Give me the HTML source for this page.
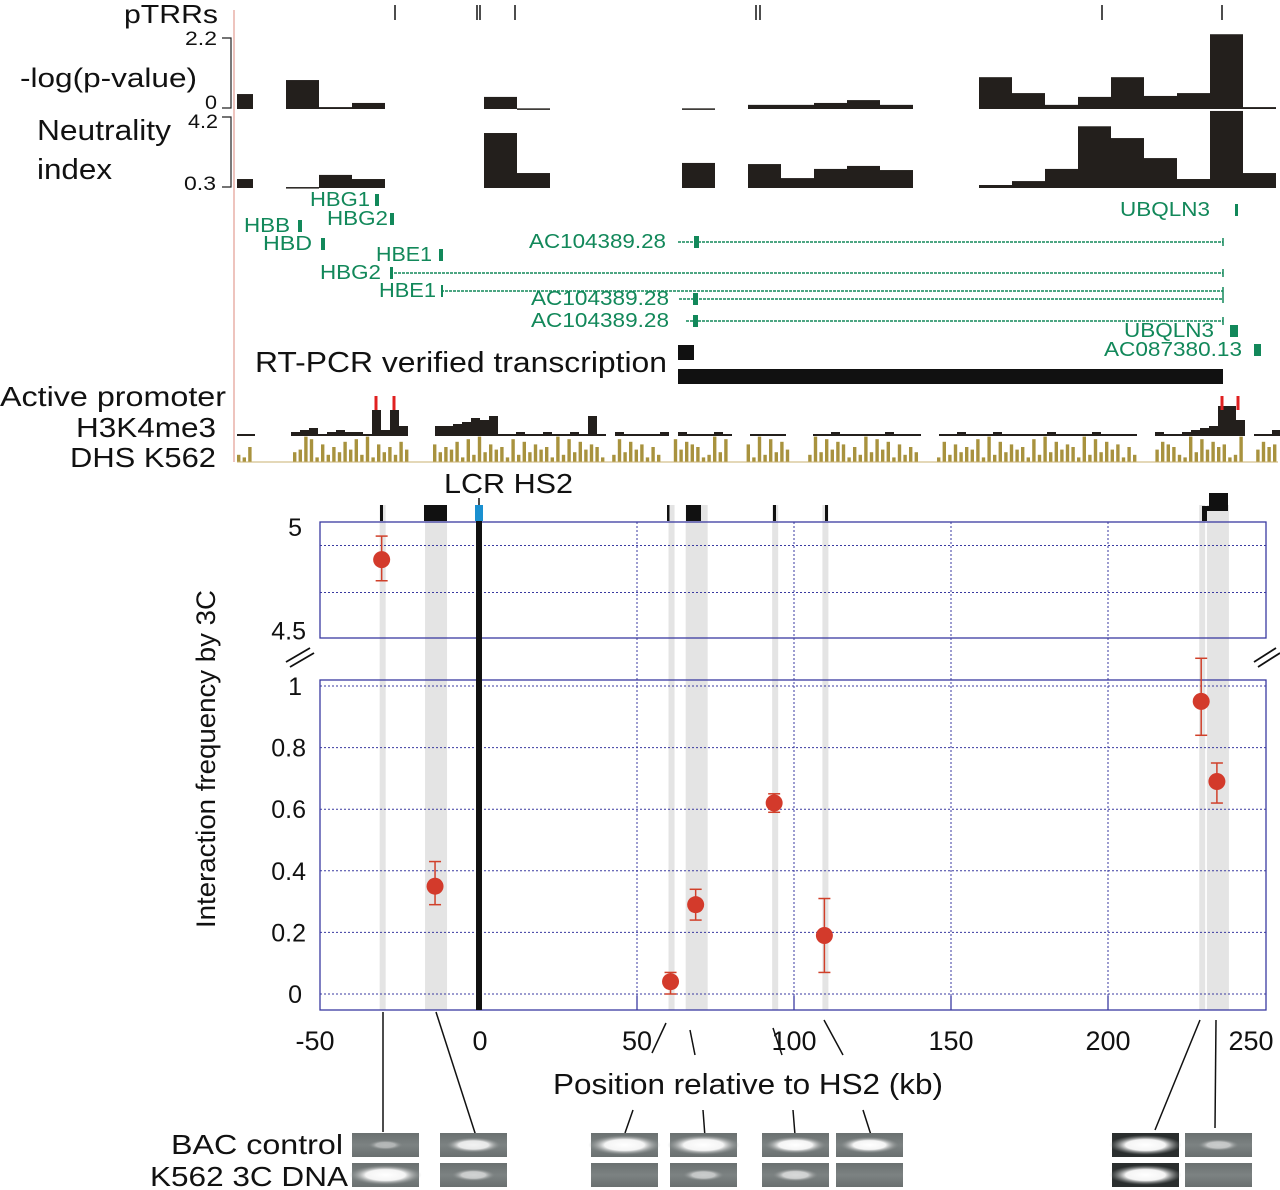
<!DOCTYPE html>
<html><head><meta charset="utf-8"><style>
body{margin:0;background:#fff}
svg{display:block;font-family:"Liberation Sans",sans-serif}
.g{fill:#12885a;font-size:20px}
</style></head><body>
<svg id="fig" width="1280" height="1190" viewBox="0 0 1280 1190" xmlns="http://www.w3.org/2000/svg">
<defs>
<radialGradient id="band" cx="50%" cy="50%" r="50%"><stop offset="0" stop-color="#fff"/><stop offset="0.55" stop-color="#f4f4f4"/><stop offset="1" stop-color="#8a8e8e" stop-opacity="0"/></radialGradient>
<linearGradient id="lane" x1="0" y1="0" x2="0" y2="1"><stop offset="0" stop-color="#6a7070"/><stop offset="0.5" stop-color="#7c8282"/><stop offset="1" stop-color="#6a7070"/></linearGradient>
</defs>
<g id="tracks"></g>
<g id="plot"></g>
<g id="gels"></g>
</svg>
<script>
// ---- track data ----
const logpBins=[0,2,3,4,8,9,14,16,17,18,19,20,23,24,25,26,27,28,29,30,31];
const logpVals=[0.47,0.91,0.06,0.19,0.38,0.02,0.02,0.13,0.13,0.19,0.28,0.13,1.0,0.5,0.13,0.38,1.0,0.41,0.5,2.35,0.06];
const neutBins=[0,2,3,4,8,9,14,16,17,18,19,20,23,24,25,26,27,28,29,30,31];
const neutVals=[0.78,0.35,1.0,0.78,3.24,1.1,1.64,1.58,0.83,1.32,1.48,1.26,0.46,0.67,1.32,3.6,2.97,1.9,0.78,4.42,1.1];
const pTRRs=[395,477,480,515,756,760,1102,1222];
// ---- 3C data ----
const positions=[-31,-14,61,69,94,110,230,235];
const freq=[4.84,0.35,0.04,0.29,0.62,0.19,0.95,0.69];
const errLo=[4.75,0.29,0.00,0.24,0.59,0.07,0.84,0.62];
const errHi=[4.94,0.43,0.07,0.34,0.65,0.31,1.09,0.75];
const xTicks=[-50,0,50,100,150,200,250];
const yTicksLow=[0,0.2,0.4,0.6,0.8,1];
const yTickLowLabels=["0","0.2","0.4","0.6","0.8","1"];
const yTicksHigh=[4.5,5];
const yTickHighLabels=["4.5","5"];
const stripeWide=[false,true,false,true,false,false,false,true];
const bacBright=[0.15,0.6,1,1,0.75,0.7,1,0.3];
const k562Bright=[1,0.35,0.0,0.3,0.4,0.0,1,0.0];

const NS='http://www.w3.org/2000/svg';
function mk(tag,attrs,parent,txt){const e=document.createElementNS(NS,tag);for(const k in attrs)e.setAttribute(k,attrs[k]);if(txt!==undefined)e.textContent=txt;parent.appendChild(e);return e;}
const T=document.getElementById('tracks'),P=document.getElementById('plot'),G=document.getElementById('gels');
const binX=i=>Math.max(237,220+i*33);
const binR=i=>Math.min(1278,253+i*33);
const logY=v=>109-v/2.2*70;
const neuY=v=>188-(v-0.3)*18.7;
function txt(parent,s,x,y,len,size,cls){const a={x:x,y:y,'font-size':size,fill:'#111',textLength:len,lengthAdjust:'spacingAndGlyphs'};if(cls){a.class=cls;delete a.fill;}return mk('text',a,parent,s);}

let e=mk('line',{x1:234,y1:10,x2:234,y2:462,stroke:'#e8b0a8','stroke-width':1.5},T);

// labels [text,x,y,len,size]
const labs=[["pTRRs",124,23,94,26],["-log(p-value)",20,87,177,27],["2.2",185,45,32,19],["0",205,109,12,19],
["Neutrality",37,140,134,29],["index",37,179,75,29],["4.2",188,128,30,19],["0.3",184,190,32,19],
["Active promoter",0,406,226,28],["H3K4me3",76,437,140,28],["DHS K562",70,467,146,28],
["RT-PCR verified transcription",255,372,412,29],["LCR HS2",444,493,129,28]];
labs.forEach(l=>{e=txt(T,l[0],l[1],l[2],l[3],l[4]);
});
[[38,108],[117,187]].forEach(a=>{e=mk('path',{d:`M222 ${a[0]}H231V${a[1]}H222`,fill:'none',stroke:'#222','stroke-width':1.2},T);
});
pTRRs.forEach(x=>{e=mk('line',{x1:x,y1:5,x2:x,y2:20,stroke:'#222','stroke-width':1.6},T);
});
logpBins.forEach((b,i)=>{const y=logY(logpVals[i]);e=mk('rect',{x:binX(b),y:y,width:binR(b)-binX(b),height:Math.max(1.5,109-y),fill:'#231f1c'},T);
});
neutBins.forEach((b,i)=>{const y=neuY(neutVals[i]);e=mk('rect',{x:binX(b),y:y,width:binR(b)-binX(b),height:Math.max(1.5,188-y),fill:'#231f1c'},T);
});
// genes [name,x,y,len,line,exon]
const genes=[["HBG1",310,206,60,null,[375,379]],["HBG2",327,225,61,null,[390,394]],["HBB",244,232,46,null,[298,302]],["HBD",263,250,49,null,[321,325]],
["UBQLN3",1120,216,90,null,[1235,1238]],["AC104389.28",529,248,137,[678,1223],[694,699]],["HBE1",376,261,56,null,[439,443]],
["HBG2",320,279,61,[390,1223],[390,393]],["HBE1",379,297,57,[441,1223],[441,443]],["AC104389.28",531,305,138,[679,1223],[693,698]],
["AC104389.28",531,327,138,[686,1223],[693,698]],["UBQLN3",1124,337,90,null,[1230,1238]],["AC087380.13",1104,356,138,null,[1254,1261]]];
genes.forEach(g=>{e=txt(T,g[0],g[1],g[2],g[3],20,'g');
const cy=g[2]-6;
if(g[4]){e=mk('line',{x1:g[4][0],y1:cy,x2:g[4][1],y2:cy,stroke:'#12885a','stroke-width':1.5,'stroke-dasharray':'3 1'},T);

e=mk('line',{x1:g[4][1],y1:cy-4,x2:g[4][1],y2:cy+4,stroke:'#12885a','stroke-width':1.5},T);}
e=mk('rect',{x:g[5][0],y:cy-6,width:g[5][1]-g[5][0],height:12,fill:'#12885a'},T);
});
e=mk('rect',{x:678,y:345,width:16,height:15,fill:'#111'},T);
e=mk('rect',{x:678,y:369,width:545,height:15,fill:'#111'},T);
const gaps=[[407,431],[602,612],[662,672],[729,746],[786,806],[920,937],[1134,1151],[1241,1251]];
const inGap=x=>x<288&&x>250||gaps.some(g=>x>=g[0]&&x<g[1]);
const hk="1122112341232213345566556798011211211210112111121211121121111211112111112111121121112111112111121111122112345558911311";
for(let i=0;i<hk.length;i++){const x=237+i*9;if(inGap(x)||x>1276)continue;let h=+hk[i];if(h===0)h=10;
let hh=h*2; if(Math.abs(x-1222)<10)hh=30; if(Math.abs(x-372)<6||Math.abs(x-390)<6)hh=26;
e=mk('rect',{x:x,y:436-hh,width:9,height:hh,fill:'#231f1c'},T);}
const dh="2153872615349816253748291635274819263547182936451827364519283746519283746152938476512938475619283746512938476152938471625384917263548192736451829374651928374615293847652193847561293847561";
for(let i=0;i<dh.length;i++){const x=237+i*5.6;if(inGap(x)||x>1276)continue;const h=+dh[i]*2.6+2;
e=mk('rect',{x:x,y:462-h,width:3.4,height:h,fill:'#a8923e'},T);}
e=mk('line',{x1:237,y1:462,x2:1278,y2:462,stroke:'#c8b070','stroke-width':1},T);
[376,394,1222,1238].forEach(x=>{e=mk('rect',{x:x-1.5,y:396,width:3,height:14,fill:'#e02020'},T);});

// ---- plot ----
const xS=v=>480+v*3.14;
const yHi=v=>522+(5-v)*235;
const yLo=v=>994-v*308;
const blue='#3a3aa0';
positions.forEach((p,i)=>{const w=stripeWide[i]?22:6;e=mk('rect',{x:xS(p)-w/2,y:505,width:w,height:505,fill:'#e4e4e4'},P);
});
[[522,638],[680,1010]].forEach(b=>{e=mk('rect',{x:320,y:b[0],width:946,height:b[1]-b[0],fill:'none',stroke:blue,'stroke-width':1.3},P);
});
xTicks.slice(1,-1).forEach(t=>{if(t===0)return;
e=mk('line',{x1:xS(t),y1:522,x2:xS(t),y2:1010,stroke:blue,'stroke-width':1,'stroke-dasharray':'2 2'},P);
e=mk('line',{x1:xS(t),y1:996,x2:xS(t),y2:1010,stroke:blue,'stroke-width':1.3},P);});
[4.7,4.9].forEach(v=>{e=mk('line',{x1:320,y1:yHi(v),x2:1266,y2:yHi(v),stroke:blue,'stroke-width':1,'stroke-dasharray':'2 2'},P);});
yTicksLow.forEach((v,i)=>{e=mk('line',{x1:320,y1:yLo(v),x2:1266,y2:yLo(v),stroke:blue,'stroke-width':1,'stroke-dasharray':'2 2'},P);
e=mk('text',{x:v===0||v===1?302:306,y:yLo(v)+9,'text-anchor':'end','font-size':25,fill:'#111'},P,yTickLowLabels[i]);});
yTicksHigh.forEach((v,i)=>{e=mk('text',{x:v===5?302:306,y:(v===5?yHi(v)+14:yHi(v)),'text-anchor':'end','font-size':25,fill:'#111'},P,yTickHighLabels[i]);});
xTicks.forEach(t=>{e=mk('text',{x:xS(t)+(t===-50?-8:t===250?-14:0),y:1050,'text-anchor':'middle','font-size':27,fill:'#111'},P,String(t));});
e=txt(P,'Position relative to HS2 (kb)',553,1094,390,29);
e=mk('text',{x:0,y:0,transform:'translate(215,759) rotate(-90)','text-anchor':'middle','font-size':27,fill:'#111',textLength:338,lengthAdjust:'spacingAndGlyphs'},P,'Interaction frequency by 3C');
[[286,662,310,648],[290,667,314,653],[1254,662,1276,648],[1258,667,1280,653]].forEach(b=>{e=mk('line',{x1:b[0],y1:b[1],x2:b[2],y2:b[3],stroke:'#111','stroke-width':1.8},P);});
e=mk('rect',{x:xS(0)-4,y:520,width:6,height:490,fill:'#111'},P);
e=mk('rect',{x:xS(0)-5,y:505,width:8,height:16,fill:'#1a90d0'},P);
e=mk('line',{x1:xS(0)-1,y1:498,x2:xS(0)-1,y2:505,stroke:'#111','stroke-width':1.5},P);
[[380,2],[424,22],[667,1.5],[686,14],[773,2],[825,2]].forEach(f=>{e=mk('rect',{x:f[0],y:505,width:f[1]+1,height:16,fill:'#111'},P);});
e=mk('path',{d:'M1202 521V506H1209V493H1228V511H1207V521Z',fill:'#111'},P);
positions.forEach((p,i)=>{const hi=freq[i]>2;const yf=hi?yHi:yLo;const x=xS(p)-1;
e=mk('line',{x1:x,y1:yf(errLo[i]),x2:x,y2:yf(errHi[i]),stroke:'#d0402a','stroke-width':1.5},P);
[errLo[i],errHi[i]].forEach(v=>{e=mk('line',{x1:x-6,y1:yf(v),x2:x+6,y2:yf(v),stroke:'#d0402a','stroke-width':1.5},P);});
e=mk('circle',{cx:x,cy:yf(freq[i]),r:8.5,fill:'#d33a2b'},P);});
[[383,1012,383,1132],[436,1012,476,1136],[666,1023,652,1053],[690,1030,695,1055],[773,1028,782,1055],[824,1020,843,1055],
[633,1110,625,1133],[703,1110,705,1137],[793,1110,795,1135],[863,1110,871,1135],[1200,1020,1155,1130],[1216,1020,1215,1128]].forEach(l=>{
e=mk('line',{x1:l[0],y1:l[1],x2:l[2],y2:l[3],stroke:'#111','stroke-width':1.5},G);});
const gx=[352,440,591,670,762,836,1112,1185];
gx.forEach((x,i)=>{[[1133,bacBright[i]],[1163,k562Bright[i]]].forEach(r=>{
const dark=(i>=6&&r[1]>0.9);
e=mk('rect',{x:x,y:r[0],width:67,height:24,fill:dark?'#2a2e2e':'url(#lane)'},G);
const b=r[1];if(b>0.05){e=mk('ellipse',{cx:x+33.5,cy:r[0]+12,rx:14+b*22,ry:4+b*6,fill:'url(#band)',opacity:Math.min(1,0.3+b)},G);}
});});
e=txt(G,'BAC control',171,1154,172,28);
e=txt(G,'K562 3C DNA',150,1186,198,28);
</script>
</body></html>
